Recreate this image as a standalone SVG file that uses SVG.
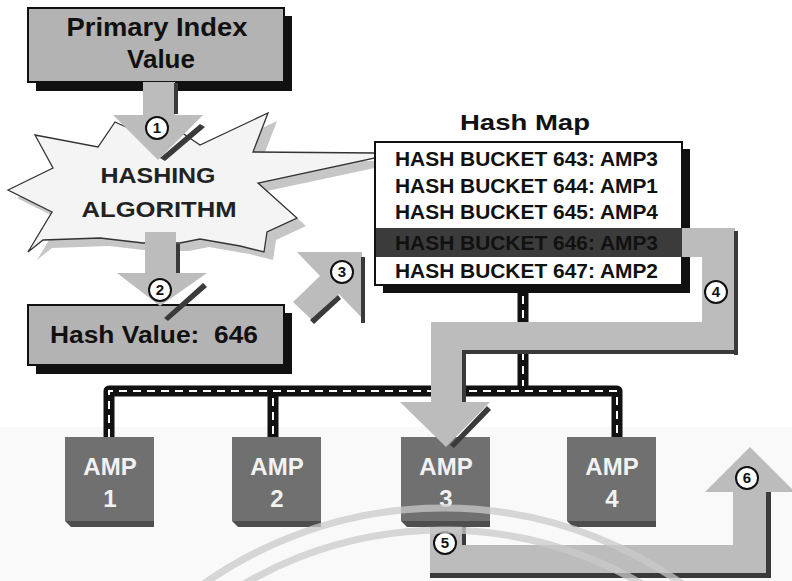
<svg xmlns="http://www.w3.org/2000/svg" width="792" height="581" viewBox="0 0 792 581">
  <defs>
    <style>
      .t { font-family: "Liberation Sans", Arial, sans-serif; font-weight: bold; }
      .box { fill: #b3b3b3; stroke: #111; stroke-width: 2; }
      .shadow { fill: #111; }
      .arrow { fill: #bcbcbc; }
      .edge { fill: #3a3a3a; }
      .num circle { fill: #fff; stroke: #111; stroke-width: 2; }
      .num text { font-family: "Liberation Sans", Arial, sans-serif; font-weight: bold; font-size: 15px; fill: #111; text-anchor: middle; }
      .amp rect.face { fill: #707070; }
      .amp .bevel { fill: #4e4e4e; }
      .amp text { font-family: "Liberation Sans", Arial, sans-serif; font-weight: bold; font-size: 24px; fill: #f2f2f2; text-anchor: middle; }
      .row { font-family: "Liberation Sans", Arial, sans-serif; font-weight: bold; font-size: 21px; fill: #111; }
      .bus-base { fill: none; stroke: #111; stroke-width: 11; stroke-linejoin: round; }
      .bus-dash { fill: none; stroke: #fff; stroke-width: 2; stroke-dasharray: 8 6; }
      .arc { fill: none; stroke: #c9c9c9; stroke-width: 7; opacity: 0.75; }
    </style>
  </defs>

  <!-- page -->
  <rect x="0" y="0" width="792" height="581" fill="#fff"/>
  <rect x="0" y="427" width="792" height="154" fill="#f9f9f9"/>

  <!-- cluster bus -->
  <g id="bus">
    <path class="bus-base" d="M109,437 V391 H617 V437 M273,391 V437 M446,391 V437 M523,292 V391"/>
    <path class="bus-dash" d="M109,437 V391 H617 V437 M273,398 V437 M523,296 V386"/>
  </g>

  <!-- primary index value -->
  <g id="primary-index">
    <rect class="shadow" x="36" y="16" width="256" height="75"/>
    <rect class="box" x="28" y="8" width="256" height="74"/>
    <text class="t" x="157" y="36" font-size="26" text-anchor="middle" fill="#111" textLength="181" lengthAdjust="spacingAndGlyphs">Primary Index</text>
    <text class="t" x="161" y="68" font-size="26" text-anchor="middle" fill="#111">Value</text>
  </g>

  <!-- hashing algorithm starburst -->
  <g id="hashing-algorithm">
    <polygon fill="#c6c6c6" transform="translate(9,8)" points="8,190 53,168 35,135 98,147 115,122 150,138 160,118 200,145 268,113 253,152 375,153 375,158 258,183 297,218 267,232 264,252 240,246 200,239 180,243 143,243 100,238 43,240 28,252 52,212"/>
    <polygon fill="#f4f4f4" stroke="#333" stroke-width="1.3" points="8,190 53,168 35,135 98,147 115,122 150,138 160,118 200,145 268,113 253,152 375,153 375,158 258,183 297,218 267,232 264,252 240,246 200,239 180,243 143,243 100,238 43,240 28,252 52,212"/>
    <text class="t" x="158" y="183" font-size="22" text-anchor="middle" fill="#222" textLength="115" lengthAdjust="spacingAndGlyphs">HASHING</text>
    <text class="t" x="159" y="217" font-size="22" text-anchor="middle" fill="#222" textLength="155" lengthAdjust="spacingAndGlyphs">ALGORITHM</text>
  </g>

  <!-- hash value -->
  <g id="hash-value">
    <rect class="shadow" x="36" y="313" width="256" height="61"/>
    <rect class="box" x="28" y="305" width="256" height="60"/>
    <text class="t" x="50" y="343" font-size="24" fill="#111" textLength="208" lengthAdjust="spacingAndGlyphs" xml:space="preserve">Hash Value:  646</text>
  </g>

  <!-- hash map -->
  <g id="hash-map">
    <text class="t" x="525" y="130" font-size="22" text-anchor="middle" fill="#111" textLength="130" lengthAdjust="spacingAndGlyphs">Hash Map</text>
    <rect class="shadow" x="383" y="149" width="307" height="144"/>
    <rect x="375" y="142" width="307" height="143" fill="#fff" stroke="#111" stroke-width="2"/>
    <rect x="376" y="228" width="306" height="29" fill="#3b3b3b"/>
    <text class="row" x="395" y="166" textLength="263" lengthAdjust="spacingAndGlyphs">HASH BUCKET 643: AMP3</text>
    <text class="row" x="395" y="193" textLength="263" lengthAdjust="spacingAndGlyphs">HASH BUCKET 644: AMP1</text>
    <text class="row" x="395" y="219" textLength="263" lengthAdjust="spacingAndGlyphs">HASH BUCKET 645: AMP4</text>
    <text class="row" x="395" y="250" fill="#d6d6d6" textLength="263" lengthAdjust="spacingAndGlyphs">HASH BUCKET 646: AMP3</text>
    <text class="row" x="395" y="278" textLength="263" lengthAdjust="spacingAndGlyphs">HASH BUCKET 647: AMP2</text>
  </g>

  <!-- AMPs -->
  <g id="amp1" class="amp">
    <rect class="face" x="65" y="437" width="89" height="84"/>
    <polygon class="bevel" points="65,521 154,521 154,527 71,527"/>
    <text x="110" y="475">AMP</text>
    <text x="110" y="507">1</text>
  </g>
  <g id="amp2" class="amp">
    <rect class="face" x="232" y="437" width="89" height="84"/>
    <polygon class="bevel" points="232,521 321,521 321,527 238,527"/>
    <text x="277" y="475">AMP</text>
    <text x="277" y="507">2</text>
  </g>
  <g id="amp3" class="amp">
    <rect class="face" x="401" y="437" width="89" height="84"/>
    <polygon class="bevel" points="401,521 490,521 490,527 407,527"/>
    <text x="446" y="475">AMP</text>
    <text x="446" y="507">3</text>
  </g>
  <g id="amp4" class="amp">
    <rect class="face" x="567" y="437" width="89" height="84"/>
    <polygon class="bevel" points="567,521 656,521 656,527 573,527"/>
    <text x="612" y="475">AMP</text>
    <text x="612" y="507">4</text>
  </g>

  <!-- numbered step arrows -->
  <g id="connectors">
    <!-- 1: index value into the hashing algorithm -->
    <g id="step1">
      <polygon class="arrow" points="143,82 175,82 175,115 203,115 158,160 113,115 143,115"/>
      <rect class="edge" x="174" y="83" width="4" height="31"/>
      <polygon class="edge" points="200,124 205,127 165,161 160,158"/>
      <g class="num"><circle cx="157" cy="128" r="11"/><text x="157" y="133">1</text></g>
    </g>
    <!-- 2: algorithm yields the hash value -->
    <g id="step2">
      <polygon class="arrow" points="145,232 176,232 176,273 207,273 160,306 117,273 145,273"/>
      <rect class="edge" x="176" y="244" width="4" height="29"/>
      <polygon class="edge" points="203,283 207,287 168,321 164,318"/>
      <g class="num"><circle cx="160" cy="290" r="11"/><text x="160" y="295">2</text></g>
    </g>
    <!-- 3: hash value looked up in the map -->
    <g id="step3">
      <polygon class="arrow" points="297,252 362,252 362,318 339,294 312,320 293,302 320,276"/>
      <rect class="edge" x="361" y="257" width="4" height="66"/>
      <polygon class="edge" points="310,320 338,295 341,299 314,324"/>
      <g class="num"><circle cx="342" cy="272" r="11"/><text x="342" y="277">3</text></g>
    </g>
    <!-- 4: bucket 646 routes to AMP 3 -->
    <g id="step4">
      <polygon class="arrow" points="682,228 735,228 735,351 462,351 462,402 490,402 446,447 400,402 431,402 431,322 702,322 702,257 682,257"/>
      <rect class="edge" x="734" y="231" width="4" height="124"/>
      <rect class="edge" x="462" y="350" width="276" height="4"/>
      <rect class="edge" x="462" y="351" width="4" height="51"/>
      <polygon class="edge" points="487,406 491,410 454,448 450,445"/>
      <g class="num"><circle cx="716" cy="292" r="11"/><text x="716" y="297">4</text></g>
    </g>
    <!-- 5 / 6: AMP 3 returns the row -->
    <g id="step5-6">
      <polygon class="arrow" points="430,527 462,527 462,545 733,545 733,492 705,492 750,447 795,492 767,492 767,577 430,577"/>
      <rect class="edge" x="462" y="527" width="4" height="18"/>
      <rect class="edge" x="766" y="492" width="5" height="86"/>
      <rect class="edge" x="430" y="573" width="341" height="5"/>
      <g class="num"><circle cx="445" cy="543" r="11"/><text x="445" y="548">5</text></g>
      <g class="num"><circle cx="747" cy="478" r="11"/><text x="747" y="483">6</text></g>
    </g>
  </g>

  <!-- faint arcs across the lower part -->
  <g id="arcs">
    <circle class="arc" cx="443" cy="923" r="415"/>
    <circle class="arc" cx="443" cy="923" r="393"/>
  </g>
</svg>
